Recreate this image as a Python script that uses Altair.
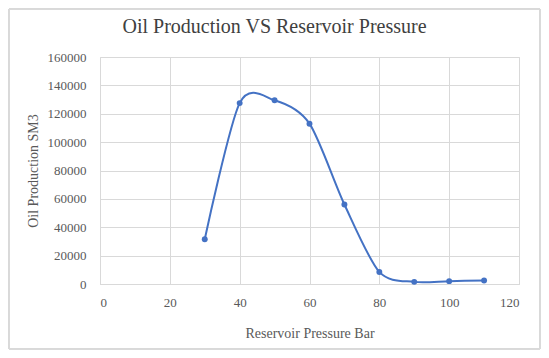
import altair as alt
import pandas as pd

pressure = [30, 40, 50, 60, 70, 80, 90, 100, 110]
production = [31500, 127500, 129500, 113000, 56000, 8500, 1500, 2000, 2500]

df = pd.DataFrame({"Reservoir Pressure Bar": pressure, "Oil Production SM3": production})

FONT = "Liberation Serif"
GRAY = "#595959"
GRID = "#D9D9D9"
BLUE = "#4472C4"

x = alt.X("Reservoir Pressure Bar:Q",
          scale=alt.Scale(domain=[0, 120], nice=False, zero=True),
          axis=alt.Axis(values=[0, 20, 40, 60, 80, 100, 120], title="Reservoir Pressure Bar",
                        grid=True, gridColor=GRID, domain=True, domainColor=GRID, ticks=False,
                        labelPadding=12, titlePadding=17, labelFontSize=13, titleFontSize=14,
                        labelColor=GRAY, titleColor=GRAY, labelFont=FONT, titleFont=FONT,
                        titleFontWeight="normal"))
y = alt.Y("Oil Production SM3:Q",
          scale=alt.Scale(domain=[0, 160000], nice=False),
          axis=alt.Axis(values=list(range(0, 160001, 20000)), title="Oil Production SM3",
                        grid=True, gridColor=GRID, domain=False, ticks=False, format="d",
                        labelPadding=14, titlePadding=7, labelFontSize=13, titleFontSize=14,
                        labelColor=GRAY, titleColor=GRAY, labelFont=FONT, titleFont=FONT,
                        titleFontWeight="normal"))

frame = alt.Chart(df).mark_rect(fill=None, stroke=GRID, strokeWidth=1).encode(
    x=alt.value(-91), x2=alt.value(440), y=alt.value(-48), y2=alt.value(292))

line = alt.Chart(df).mark_line(interpolate="cardinal", tension=0.15, color=BLUE, strokeWidth=2).encode(x=x, y=y)
pts = alt.Chart(df).mark_point(filled=True, color=BLUE, size=35, opacity=1).encode(x=x, y=y)

chart = alt.layer(frame, line, pts).properties(
    width=419, height=227,
    autosize=alt.AutoSizeParams(type="none"),
    padding={"left": 92, "top": 49, "right": 22, "bottom": 66},
    title=alt.TitleParams("Oil Production VS Reservoir Pressure", font=FONT, fontSize=20,
                          fontWeight="normal", color="#404040", anchor="middle", dx=-35,
                          offset=0, dy=48, baseline="bottom"),
).configure_view(stroke=GRID).configure(background="white")

chart.save("out.html", embed_options={"renderer": "svg", "actions": False})
